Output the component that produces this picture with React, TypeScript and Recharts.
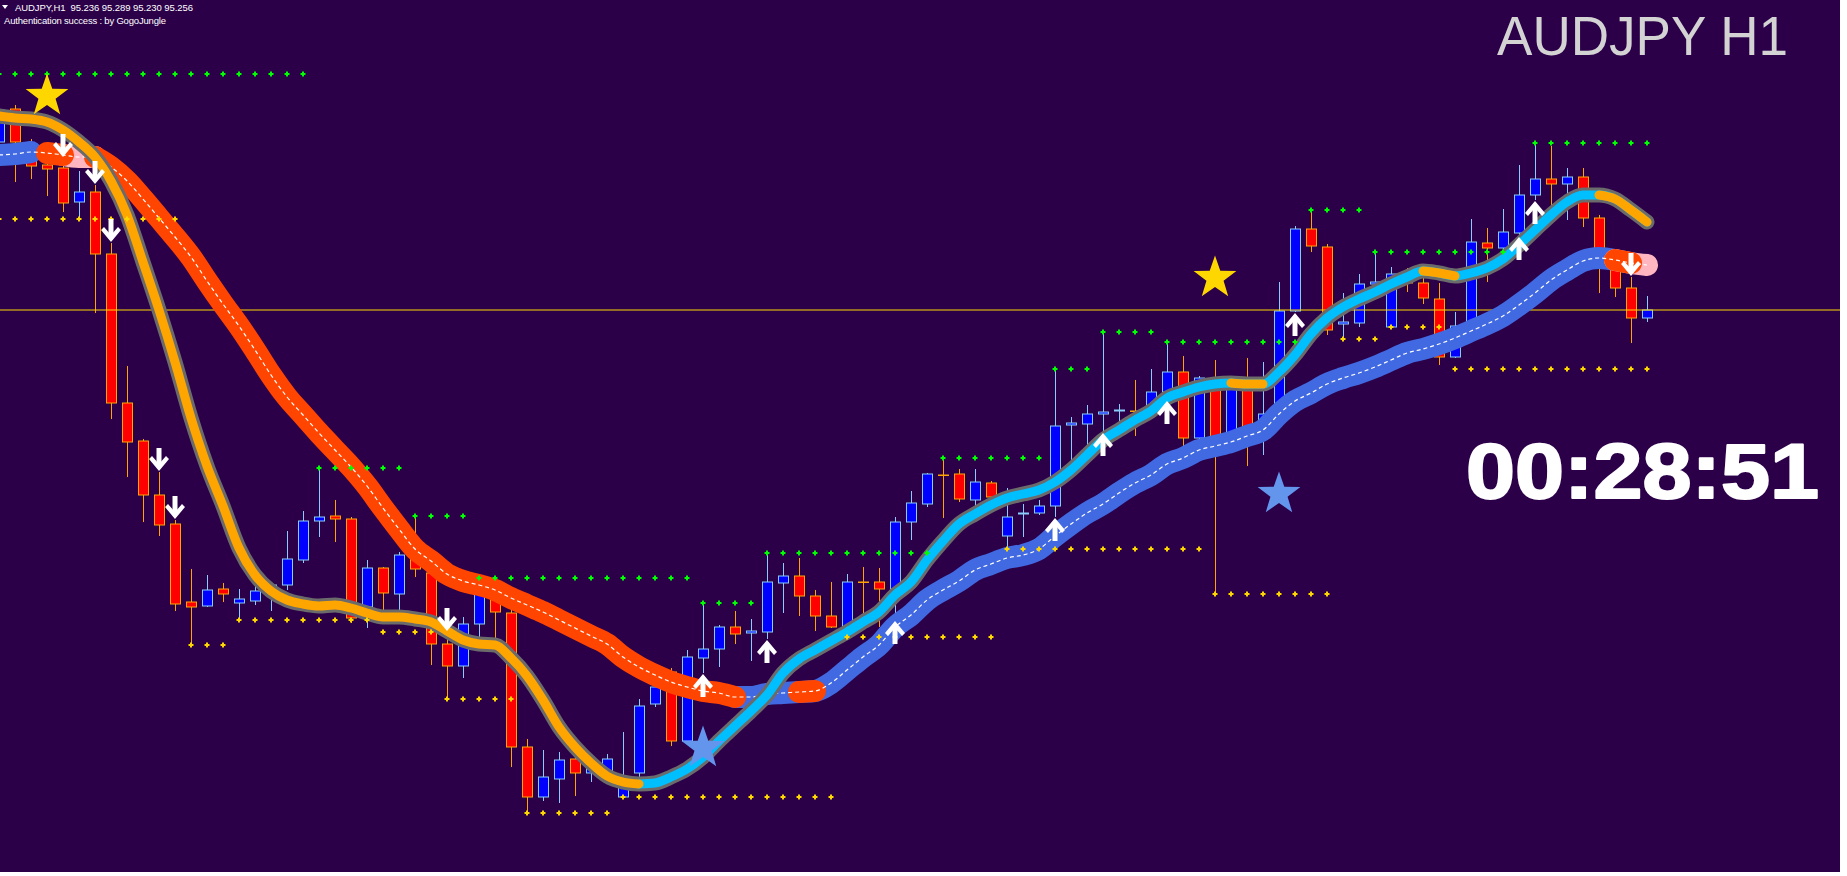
import { Bar, ComposedChart, Line, ReferenceLine, Scatter, XAxis, YAxis } from "recharts";

const opens = [
  95.424, 95.457, 95.405, 95.401, 95.398, 95.364, 95.374, 95.312, 95.163, 95.125,
  95.071, 95.042, 94.964, 94.96, 94.977, 94.963, 94.965, 94.974, 94.981, 95.006,
  95.045, 95.05, 95.047, 94.959, 94.998, 94.972, 95.011, 94.993, 94.922, 94.9,
  94.942, 94.969, 94.953, 94.819, 94.769, 94.787, 94.807, 94.793, 94.793, 94.769,
  94.793, 94.862, 94.894, 94.825, 94.908, 94.917, 94.939, 94.933, 94.934, 94.983,
  94.99, 94.97, 94.95, 94.939, 94.984, 94.984, 94.977, 95.044, 95.062, 95.091,
  95.092, 95.066, 95.083, 95.03, 95.052, 95.053, 95.06, 95.141, 95.142, 95.152,
  95.155, 95.155, 95.159, 95.174, 95.194, 95.128, 95.187, 95.133, 95.183, 95.133,
  95.151, 95.255, 95.337, 95.319, 95.242, 95.243, 95.282, 95.239, 95.29, 95.283,
  95.267, 95.209, 95.243, 95.323, 95.318, 95.333, 95.371, 95.387, 95.382, 95.389,
  95.348, 95.304, 95.278, 95.248,
];
const highs = [
  95.462, 95.461, 95.427, 95.416, 95.408, 95.395, 95.381, 95.323, 95.2, 95.127,
  95.094, 95.046, 94.997, 94.991, 94.983, 94.977, 94.982, 94.983, 95.035, 95.055,
  95.098, 95.066, 95.049, 95.006, 94.999, 95.014, 95.049, 95.001, 94.934, 94.949,
  94.986, 94.983, 94.959, 94.827, 94.816, 94.814, 94.811, 94.811, 94.812, 94.834,
  94.867, 94.898, 94.898, 94.916, 94.963, 94.941, 94.955, 94.947, 95.013, 95.003,
  95.008, 94.976, 94.984, 94.992, 94.999, 94.998, 95.049, 95.075, 95.093, 95.108,
  95.097, 95.097, 95.085, 95.078, 95.062, 95.066, 95.197, 95.149, 95.161, 95.234,
  95.162, 95.186, 95.197, 95.224, 95.21, 95.19, 95.206, 95.186, 95.208, 95.204,
  95.284, 95.34, 95.357, 95.322, 95.273, 95.292, 95.314, 95.299, 95.298, 95.29,
  95.283, 95.254, 95.347, 95.338, 95.357, 95.401, 95.423, 95.42, 95.398, 95.398,
  95.351, 95.311, 95.289, 95.27,
];
const lows = [
  95.42, 95.384, 95.387, 95.37, 95.354, 95.348, 95.253, 95.147, 95.089, 95.044,
  95.03, 94.955, 94.92, 94.959, 94.964, 94.946, 94.961, 94.955, 94.976, 95.003,
  95.029, 95.024, 94.943, 94.938, 94.948, 94.955, 94.989, 94.901, 94.867, 94.888,
  94.926, 94.925, 94.799, 94.753, 94.765, 94.763, 94.77, 94.784, 94.784, 94.768,
  94.788, 94.859, 94.82, 94.824, 94.893, 94.899, 94.922, 94.905, 94.927, 94.953,
  94.95, 94.935, 94.938, 94.936, 94.952, 94.939, 94.946, 95.026, 95.059, 95.048,
  95.064, 95.059, 95.068, 95.018, 95.029, 95.051, 95.049, 95.104, 95.116, 95.134,
  95.139, 95.13, 95.154, 95.166, 95.116, 95.124, 94.971, 95.13, 95.1, 95.111,
  95.149, 95.254, 95.314, 95.231, 95.228, 95.239, 95.276, 95.238, 95.274, 95.262,
  95.201, 95.208, 95.242, 95.284, 95.314, 95.33, 95.366, 95.356, 95.346, 95.339,
  95.273, 95.269, 95.223, 95.244,
];
const closes = [
  95.456, 95.424, 95.4, 95.397, 95.363, 95.374, 95.312, 95.163, 95.124, 95.071,
  95.041, 94.962, 94.959, 94.976, 94.972, 94.967, 94.975, 94.981, 95.007, 95.045,
  95.049, 95.047, 94.948, 94.998, 94.973, 95.011, 94.997, 94.922, 94.9, 94.942,
  94.976, 94.954, 94.819, 94.769, 94.789, 94.806, 94.793, 94.803, 94.807, 94.781,
  94.86, 94.879, 94.825, 94.909, 94.917, 94.939, 94.932, 94.935, 94.984, 94.99,
  94.97, 94.95, 94.939, 94.984, 94.984, 94.977, 95.044, 95.063, 95.092, 95.091,
  95.067, 95.084, 95.069, 95.049, 95.053, 95.06, 95.14, 95.143, 95.152, 95.154,
  95.156, 95.155, 95.174, 95.194, 95.128, 95.188, 95.129, 95.18, 95.131, 95.152,
  95.255, 95.337, 95.32, 95.236, 95.244, 95.282, 95.284, 95.292, 95.283, 95.268,
  95.209, 95.24, 95.324, 95.318, 95.334, 95.371, 95.387, 95.382, 95.389, 95.348,
  95.311, 95.278, 95.248, 95.256,
];

// fast trend line (orange / cyan) and slow band (red / blue)
const fastMa = [
  95.45, 95.448, 95.447, 95.444, 95.436, 95.424, 95.409, 95.385, 95.351, 95.304,
  95.256, 95.204, 95.148, 95.1, 95.06, 95.018, 94.991, 94.975, 94.966, 94.962,
  94.96, 94.961, 94.958, 94.953, 94.949, 94.949, 94.947, 94.944, 94.935, 94.926,
  94.922, 94.921, 94.908, 94.89, 94.866, 94.839, 94.819, 94.803, 94.79, 94.784,
  94.782, 94.783, 94.789, 94.797, 94.809, 94.825, 94.84, 94.855, 94.871, 94.893,
  94.907, 94.916, 94.925, 94.934, 94.944, 94.954, 94.971, 94.984, 95.006, 95.025,
  95.042, 95.052, 95.061, 95.068, 95.072, 95.076, 95.084, 95.096, 95.111, 95.126,
  95.136, 95.146, 95.155, 95.168, 95.174, 95.179, 95.182, 95.183, 95.182, 95.182,
  95.194, 95.211, 95.232, 95.248, 95.259, 95.267, 95.274, 95.282, 95.289, 95.295,
  95.293, 95.29, 95.293, 95.298, 95.307, 95.321, 95.336, 95.351, 95.364, 95.371,
  95.371, 95.367, 95.356, 95.344,
];
const slowMa = [
  95.411, 95.412, 95.414, 95.413, 95.411, 95.409, 95.409, 95.399, 95.385, 95.367,
  95.348, 95.329, 95.309, 95.285, 95.262, 95.24, 95.216, 95.191, 95.169, 95.151,
  95.133, 95.116, 95.099, 95.08, 95.058, 95.037, 95.017, 95.005, 94.992, 94.985,
  94.981, 94.976, 94.968, 94.961, 94.954, 94.946, 94.938, 94.93, 94.922, 94.909,
  94.899, 94.891, 94.884, 94.879, 94.875, 94.873, 94.869, 94.869, 94.872, 94.873,
  94.874, 94.875, 94.883, 94.896, 94.909, 94.921, 94.939, 94.951, 94.966, 94.976,
  94.985, 94.996, 95.002, 95.008, 95.011, 95.017, 95.03, 95.042, 95.053, 95.062,
  95.073, 95.083, 95.091, 95.102, 95.108, 95.116, 95.12, 95.124, 95.13, 95.136,
  95.152, 95.165, 95.173, 95.182, 95.188, 95.193, 95.199, 95.206, 95.213, 95.217,
  95.222, 95.228, 95.235, 95.242, 95.25, 95.261, 95.273, 95.286, 95.296, 95.305,
  95.308, 95.306, 95.303, 95.301,
];

type Span = [number, number];
const fastWarmSpans: Span[] = [[0, 40], [77, 79], [89, 91], [100, 103]];
const fastCoolSpans: Span[] = [[40, 103]];
const slowBlueSpans: Span[] = [[0, 2], [46, 101]];
const slowPinkSpans: Span[] = [[4, 6], [101, 103]];
const slowRedSpans: Span[] = [[3, 4], [6, 46], [50, 51], [101, 102]];

// dotted fractal levels: first bar, last bar, price
const resStart = [0, 20, 26, 30, 44, 48, 59, 66, 69, 73, 82, 86, 96];
const resEnd = [19, 25, 29, 43, 47, 58, 65, 68, 72, 81, 85, 94, 103];
const resPrice = [95.492, 95.098, 95.05, 94.988, 94.963, 95.013, 95.108, 95.197, 95.234, 95.224, 95.356, 95.314, 95.423];
const supStart = [0, 12, 15, 24, 28, 33, 39, 53, 63, 76, 84, 87, 91];
const supEnd = [11, 14, 23, 27, 32, 38, 52, 62, 75, 83, 86, 90, 103];
const supPrice = [95.347, 94.921, 94.946, 94.934, 94.867, 94.753, 94.769, 94.929, 95.017, 94.972, 95.227, 95.239, 95.197];

const sellBars = [4, 6, 7, 10, 11, 28, 102];
const buyBars = [44, 48, 56, 66, 69, 73, 81, 95, 96];
const goldStarBars = [3, 76];
const goldStarPrices = [95.47, 95.288];
const blueStarBars = [44, 80];
const blueStarPrices = [94.818, 95.072];

const bid = 95.256;

const inSpans = (i: number, spans: Span[]) => spans.some(([a, b]) => i >= a && i <= b);
const pick = (arr: number[], i: number, spans: Span[]) => (inSpans(i, spans) ? arr[i] : null);

const bars = opens.map((o, i) => ({
  i,
  o,
  h: highs[i],
  l: lows[i],
  c: closes[i],
  range: [lows[i], highs[i]],
  fast: fastMa[i],
  fastWarm: pick(fastMa, i, fastWarmSpans),
  fastCool: pick(fastMa, i, fastCoolSpans),
  slow: slowMa[i],
  slowBlue: pick(slowMa, i, slowBlueSpans),
  slowPink: pick(slowMa, i, slowPinkSpans),
  slowRed: pick(slowMa, i, slowRedSpans),
}));

const levelDots = (starts: number[], ends: number[], prices: number[]) =>
  starts.flatMap((s, k) =>
    Array.from({ length: ends[k] - s + 1 }, (_, j) => ({ i: s + j, p: prices[k] }))
  );
const resDots = levelDots(resStart, resEnd, resPrice);
const supDots = levelDots(supStart, supEnd, supPrice);
const sellMarks = sellBars.map((i) => ({ i, p: highs[i] }));
const buyMarks = buyBars.map((i) => ({ i, p: lows[i] }));
const goldStars = goldStarBars.map((i, k) => ({ i, p: goldStarPrices[k] }));
const blueStars = blueStarBars.map((i, k) => ({ i, p: blueStarPrices[k] }));

const BG = "#2b0049";

function Candle(props: any) {
  const { x, y, width, height, payload } = props;
  if (!payload || x == null) return null;
  const top = Math.min(y, y + height);
  const span = Math.abs(height);
  const { o, h, l, c } = payload;
  const py = (v: number) => top + ((h - v) / (h - l)) * span;
  const bull = c > o;
  const fill = bull ? "#0000ff" : "#ff0000";
  const edge = bull ? "#87cefa" : "#ffa500";
  const cx = Math.round(x + width / 2) + 0.5;
  const bTop = py(Math.max(o, c));
  const bBot = py(Math.min(o, c));
  return (
    <g>
      <line x1={cx} x2={cx} y1={top} y2={top + span} stroke={edge} strokeWidth={1} />
      <rect
        x={cx - 5}
        y={bTop}
        width={10}
        height={Math.max(bBot - bTop, 0.5)}
        fill={fill}
        stroke={edge}
        strokeWidth={1}
      />
    </g>
  );
}

function LevelDot({ cx, cy, color }: any) {
  return (
    <g fill={color}>
      <rect x={cx - 1} y={cy - 2.5} width={2} height={5} />
      <rect x={cx - 2.5} y={cy - 1} width={5} height={2} />
    </g>
  );
}

function Arrow({ cx, cy, dir }: any) {
  // dir 1 points down (tip on the high), -1 points up (tip on the low)
  const t = cy - dir * 1;
  const d = (v: number) => t - dir * v;
  const head = [
    [cx - 10, d(12)],
    [cx - 7, d(15)],
    [cx, d(7)],
    [cx + 7, d(15)],
    [cx + 10, d(12)],
    [cx, d(0)],
  ]
    .map((q) => q.join(","))
    .join(" ");
  return (
    <g fill="#ffffff">
      <rect x={cx - 2.5} y={Math.min(d(23), d(5))} width={5} height={18} />
      <polygon points={head} />
    </g>
  );
}

function Star({ cx, cy, color }: any) {
  const R = 22.5;
  const r = 9;
  const pts = Array.from({ length: 10 }, (_, k) => {
    const a = -Math.PI / 2 + (k * Math.PI) / 5;
    const rad = k % 2 ? r : R;
    return `${cx + rad * Math.cos(a)},${cy + rad * Math.sin(a)}`;
  }).join(" ");
  return <polygon points={pts} fill={color} />;
}

export default function App() {
  return (
    <div style={{ position: "absolute", left: 0, top: 0, width: 1840, height: 872, background: BG }}>
      <ComposedChart width={1840} height={872} data={bars} margin={{ top: 0, right: 0, bottom: 0, left: 0 }}>
        <XAxis dataKey="i" type="number" domain={[0.0625, 115.0625]} allowDataOverflow hide />
        <YAxis type="number" domain={[94.694, 95.566]} allowDataOverflow hide />
        <ReferenceLine y={bid} stroke="#ffd700" strokeWidth={1} />
        <Bar dataKey="range" barSize={11} shape={Candle} isAnimationActive={false} />
        <Line dataKey="slowBlue" stroke="#4169e1" strokeWidth={22} strokeLinecap="round" strokeLinejoin="round" dot={false} activeDot={false} type="monotone" isAnimationActive={false} />
        <Line dataKey="slowPink" stroke="#ffb6c1" strokeWidth={22} strokeLinecap="round" strokeLinejoin="round" dot={false} activeDot={false} type="monotone" isAnimationActive={false} />
        <Line dataKey="slowRed" stroke="#ff4500" strokeWidth={22} strokeLinecap="round" strokeLinejoin="round" dot={false} activeDot={false} type="monotone" isAnimationActive={false} />
        <Line dataKey="slow" stroke="#ffffff" strokeWidth={1.2} strokeDasharray="4 3" dot={false} activeDot={false} type="monotone" isAnimationActive={false} />
        <Line dataKey="fast" stroke="#6b6b6b" strokeWidth={15} strokeLinecap="round" strokeLinejoin="round" dot={false} activeDot={false} type="monotone" isAnimationActive={false} />
        <Line dataKey="fastCool" stroke="#00bfff" strokeWidth={9} strokeLinecap="round" strokeLinejoin="round" dot={false} activeDot={false} type="monotone" isAnimationActive={false} />
        <Line dataKey="fastWarm" stroke="#ffa500" strokeWidth={9} strokeLinecap="round" strokeLinejoin="round" dot={false} activeDot={false} type="monotone" isAnimationActive={false} />
        <Scatter data={resDots} dataKey="p" isAnimationActive={false} shape={(p: any) => <LevelDot {...p} color="#00ff00" />} />
        <Scatter data={supDots} dataKey="p" isAnimationActive={false} shape={(p: any) => <LevelDot {...p} color="#ffd700" />} />
        <Scatter data={sellMarks} dataKey="p" isAnimationActive={false} shape={(p: any) => <Arrow {...p} dir={1} />} />
        <Scatter data={buyMarks} dataKey="p" isAnimationActive={false} shape={(p: any) => <Arrow {...p} dir={-1} />} />
        <Scatter data={goldStars} dataKey="p" isAnimationActive={false} shape={(p: any) => <Star {...p} color="#ffd700" />} />
        <Scatter data={blueStars} dataKey="p" isAnimationActive={false} shape={(p: any) => <Star {...p} color="#6495ed" />} />
      </ComposedChart>
      <svg
        width={1840}
        height={872}
        style={{ position: "absolute", left: 0, top: 0, pointerEvents: "none" }}
        fontFamily="'Liberation Sans', Arial, sans-serif"
      >
        <polygon points="2,5 8,5 5,9" fill="#ffffff" />
        <text x={15} y={11} fontSize={9.5} fill="#ffffff" textLength={178} style={{ whiteSpace: "pre" }}>
          {"AUDJPY,H1  95.236 95.289 95.230 95.256"}
        </text>
        <text x={4} y={23.5} fontSize={9.5} fill="#ffffff" textLength={162}>
          Authentication success : by GogoJungle
        </text>
        <text x={1497} y={55} fontSize={55} fill="#d3d3d3" textLength={291} lengthAdjust="spacingAndGlyphs">
          AUDJPY H1
        </text>
        <text
          x={1466}
          y={498}
          fontSize={78}
          fontWeight="bold"
          fill="#ffffff"
          stroke="#ffffff"
          strokeWidth={2}
          strokeLinejoin="round"
          textLength={353}
          lengthAdjust="spacingAndGlyphs"
        >
          00:28:51
        </text>
      </svg>
    </div>
  );
}
